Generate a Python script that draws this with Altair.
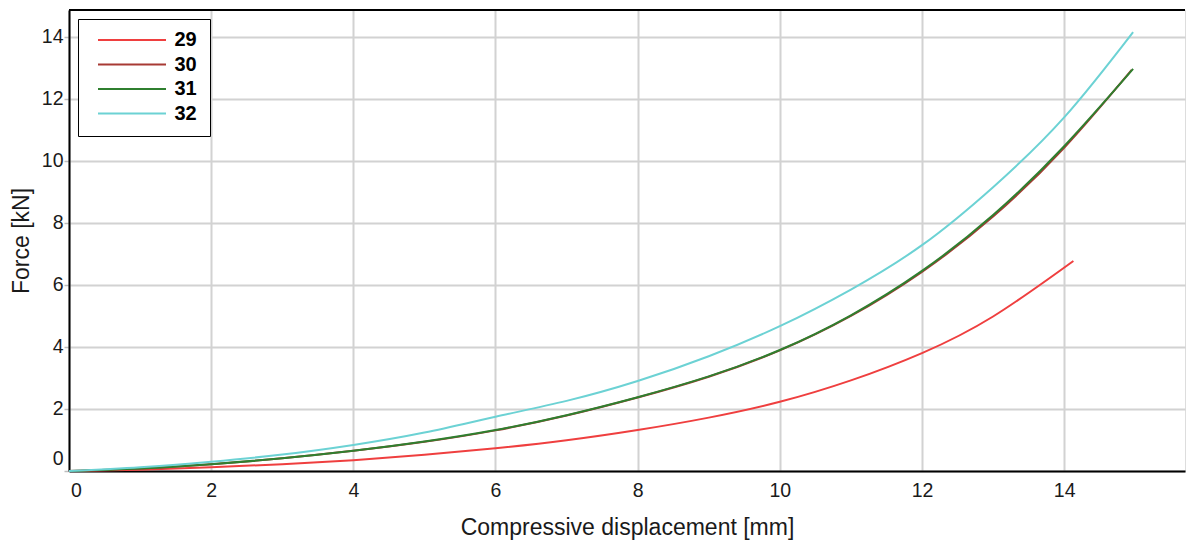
import altair as alt
import pandas as pd

# Force–displacement curves for four compression specimens
samples = ["29", "30", "31", "32"]
colors = ["#ef3f3f", "#a83a34", "#2f7f2f", "#6cd2d4"]

disp_29 = [0, 1, 2, 3, 4, 5, 6, 7, 8, 9, 10, 11, 12, 13, 14.13]
force_29 = [0, 0.04, 0.12, 0.22, 0.35, 0.52, 0.73, 0.99, 1.32, 1.72, 2.23, 2.92, 3.80, 4.98, 6.77]

disp_30 = [0, 1, 2, 3, 4, 5, 6, 7, 8, 9, 10, 11, 12, 13, 14, 14.95]
force_30 = [0, 0.08, 0.22, 0.41, 0.65, 0.94, 1.31, 1.79, 2.37, 3.04, 3.89, 5.00, 6.42, 8.20, 10.42, 12.93]

disp_31 = [0, 1, 2, 3, 4, 5, 6, 7, 8, 9, 10, 11, 12, 13, 14, 14.97]
force_31 = [0, 0.08, 0.22, 0.41, 0.65, 0.95, 1.32, 1.80, 2.38, 3.05, 3.90, 5.02, 6.45, 8.25, 10.47, 12.96]

disp_32 = [0, 1, 2, 3, 4, 5, 6, 7, 8, 9, 10, 11, 12, 13, 14, 14.97]
force_32 = [0, 0.12, 0.30, 0.53, 0.84, 1.24, 1.75, 2.26, 2.90, 3.70, 4.67, 5.85, 7.28, 9.15, 11.40, 14.15]

x_ticks = [0, 2, 4, 6, 8, 10, 12, 14]
y_ticks = [0, 2, 4, 6, 8, 10, 12, 14]

rows = []
for name, xs, ys in [("29", disp_29, force_29), ("30", disp_30, force_30),
                     ("31", disp_31, force_31), ("32", disp_32, force_32)]:
    for i, (xv, yv) in enumerate(zip(xs, ys)):
        rows.append({"sample": name, "order": i, "disp": xv, "force": yv})
df = pd.DataFrame(rows)

W, H = 1116, 461
FONT = "Liberation Sans"

lines = alt.Chart(df).mark_line(strokeWidth=2, interpolate="natural").encode(
    x=alt.X("disp:Q",
            scale=alt.Scale(domain=[0, 15.70], nice=False, zero=False),
            axis=alt.Axis(values=x_ticks, title="Compressive displacement [mm]",
                          grid=True, gridColor="#d2d2d2", gridWidth=2,
                          domainColor="black", domainWidth=2,
                          ticks=False, labelPadding=10, labelFlush=True,
                          labelFlushOffset=-1.5,
                          labelFont=FONT, labelFontSize=19.5, labelColor="#1a1a1a",
                          titleFont=FONT, titleFontSize=23, titleFontWeight="normal",
                          titleColor="#1a1a1a", titlePadding=17)),
    y=alt.Y("force:Q",
            scale=alt.Scale(domain=[0, 14.86], nice=False, zero=False),
            axis=alt.Axis(values=y_ticks, title="Force [kN]",
                          grid=True, gridColor="#d2d2d2", gridWidth=2,
                          domainColor="black", domainWidth=2,
                          ticks=True, tickColor="#bdbdbd", tickSize=5, tickWidth=1.5,
                          labelPadding=1, labelFlush=True, labelFlushOffset=-3,
                          labelFont=FONT, labelFontSize=19.5, labelColor="#1a1a1a",
                          titleFont=FONT, titleFontSize=23, titleFontWeight="normal",
                          titleColor="#1a1a1a", titlePadding=8)),
    color=alt.Color("sample:N",
                    scale=alt.Scale(domain=samples, range=colors),
                    legend=alt.Legend(title=None, orient="none", legendX=9, legendY=9,
                                      symbolType="stroke", symbolSize=4624,
                                      symbolStrokeWidth=2, clipHeight=17,
                                      symbolOffset=6.5, labelOffset=7.5,
                                      rowPadding=3.5, padding=12.5,
                                      labelFont=FONT, labelFontSize=20,
                                      labelFontWeight="bold", labelColor="black",
                                      strokeColor="black", fillColor="white",
                                      cornerRadius=0)),
    order="order:Q",
)

top_edge = alt.Chart(df).mark_rule(color="black", strokeWidth=2).encode(
    x=alt.value(0), x2=alt.value(W), y=alt.value(0)
)

chart = alt.layer(lines, top_edge).properties(
    width=W, height=H,
    padding={"left": 69, "top": 10, "right": 1, "bottom": 76},
    autosize=alt.AutoSizeParams(type="none"),
).configure_view(stroke="#dcdcdc", strokeWidth=1).configure(background="white")

chart.save("out.html", embed_options={"renderer": "svg", "actions": False})
